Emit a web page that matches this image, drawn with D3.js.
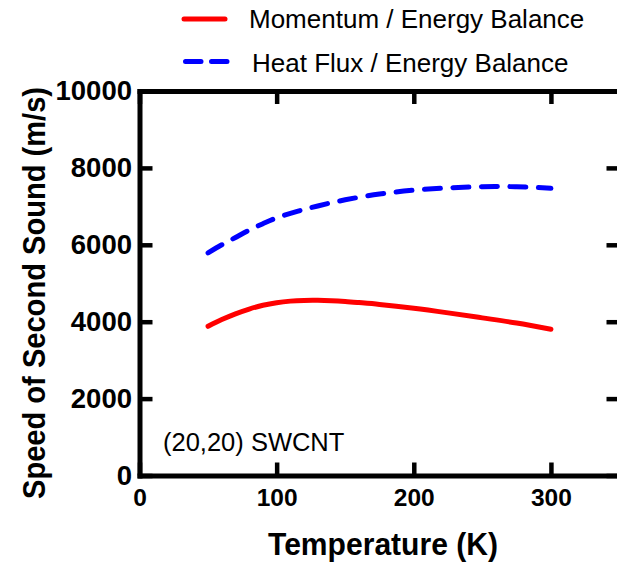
<!DOCTYPE html>
<html><head><meta charset="utf-8">
<script src="https://cdn.jsdelivr.net/npm/d3@7"></script>
<style>
html,body{margin:0;padding:0;background:#fff;}
svg{display:block;font-family:"Liberation Sans",Arial,sans-serif;}
</style></head>
<body>
<svg id="chart" width="617" height="562"></svg>
<script>
// ---- data ----
const temperature = [50, 60, 70, 80, 90, 100, 110, 120, 130, 140, 150, 160, 175, 200, 225, 250, 275, 300];
const momentumEnergy = [3880, 4055, 4205, 4330, 4428, 4495, 4535, 4553, 4555, 4545, 4525, 4497, 4450, 4350, 4230, 4100, 3965, 3805];
const heatFluxTemps = [50, 60, 70, 80, 90, 100, 115, 130, 150, 175, 200, 225, 250, 275, 300];
const heatFluxEnergy = [5790, 6000, 6190, 6380, 6550, 6700, 6870, 7010, 7170, 7320, 7420, 7480, 7510, 7510, 7470];
const xTicks = [0, 100, 200, 300];
const yTicks = [0, 2000, 4000, 6000, 8000, 10000];
const seriesNames = ["Momentum / Energy Balance", "Heat Flux / Energy Balance"];
const seriesColors = ["#ff0000", "#0000ff"];
const annotation = "(20,20) SWCNT";

const svg = d3.select("#chart");
const mLeft = 139.5, mRight = 619.5, mTop = 91, mBottom = 475.5;
const x = d3.scaleLinear().domain([0, 350]).range([mLeft, mRight]);
const y = d3.scaleLinear().domain([0, 10000]).range([mBottom, mTop]);

function styleAxis(g) {
  g.select(".domain").attr("stroke", "#000").attr("stroke-width", 5).attr("stroke-linecap", "square");
  g.selectAll(".tick line").attr("stroke", "#000").attr("stroke-width", 4.5);
}

// bottom axis
svg.append("g").attr("transform", `translate(0,${mBottom})`)
  .call(d3.axisBottom(x).tickValues(xTicks).tickSizeInner(-13).tickSizeOuter(0).tickPadding(13.5))
  .call(styleAxis)
  .call(g => g.selectAll("text").attr("font-size", 24.5).attr("font-weight", "bold").attr("fill", "#000"));
// top axis
svg.append("g").attr("transform", `translate(0,${mTop})`)
  .call(d3.axisTop(x).tickValues(xTicks).tickSizeInner(-13).tickSizeOuter(0).tickFormat(""))
  .call(styleAxis);
// left axis
svg.append("g").attr("transform", `translate(${mLeft},0)`)
  .call(d3.axisLeft(y).tickValues(yTicks).tickSizeInner(-13).tickSizeOuter(0).tickPadding(7.5).tickFormat(d3.format("d")))
  .call(styleAxis)
  .call(g => g.selectAll("text").attr("font-size", 27.5).attr("font-weight", "bold").attr("fill", "#000"));
// right axis
svg.append("g").attr("transform", `translate(${mRight},0)`)
  .call(d3.axisRight(y).tickValues(yTicks).tickSizeInner(-13).tickSizeOuter(0).tickFormat(""))
  .call(styleAxis);

// lines
const line = d3.line().x(d => x(d[0])).y(d => y(d[1])).curve(d3.curveCatmullRom.alpha(0.5));
svg.append("path")
  .datum(d3.zip(temperature, momentumEnergy))
  .attr("d", line).attr("fill", "none")
  .attr("stroke", seriesColors[0]).attr("stroke-width", 5).attr("stroke-linecap", "round");
svg.append("path")
  .datum(d3.zip(heatFluxTemps, heatFluxEnergy))
  .attr("d", line).attr("fill", "none")
  .attr("stroke", seriesColors[1]).attr("stroke-width", 5).attr("stroke-linecap", "round")
  .attr("stroke-dasharray", "16,12.5");

// legend
const leg = svg.append("g");
leg.append("line").attr("x1", 184).attr("x2", 225).attr("y1", 19).attr("y2", 19)
  .attr("stroke", seriesColors[0]).attr("stroke-width", 5).attr("stroke-linecap", "round");
leg.append("text").attr("x", 249).attr("y", 28).attr("font-size", 26).text(seriesNames[0]);
leg.append("line").attr("x1", 185.5).attr("x2", 227).attr("y1", 61.5).attr("y2", 61.5)
  .attr("stroke", seriesColors[1]).attr("stroke-width", 5).attr("stroke-linecap", "round")
  .attr("stroke-dasharray", "15.5,10.5");
leg.append("text").attr("x", 252).attr("y", 72).attr("font-size", 26).text(seriesNames[1]);

// annotation
svg.append("text").attr("x", 163).attr("y", 450.5).attr("font-size", 25.5).text(annotation);

// axis titles
svg.append("text").attr("x", 383).attr("y", 555).attr("text-anchor", "middle")
  .attr("font-size", 31).attr("font-weight", "bold")
  .attr("textLength", 230).attr("lengthAdjust", "spacingAndGlyphs")
  .text("Temperature (K)");
svg.append("text").attr("transform", "translate(45,293) rotate(-90)").attr("text-anchor", "middle")
  .attr("font-size", 32).attr("font-weight", "bold")
  .attr("textLength", 412).attr("lengthAdjust", "spacingAndGlyphs")
  .text("Speed of Second Sound (m/s)");
</script>
</body></html>
